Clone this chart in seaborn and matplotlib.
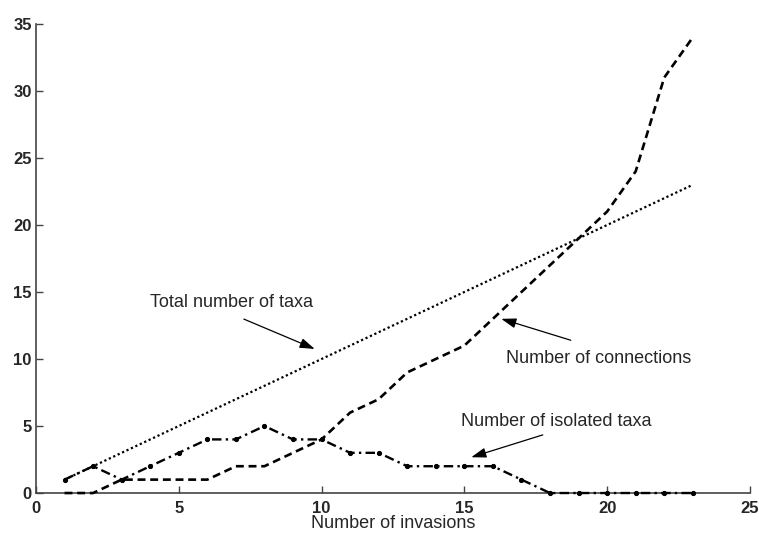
import seaborn as sns
import matplotlib.pyplot as plt
import pandas as pd

# data
invasions = list(range(1, 24))
total_taxa = list(range(1, 24))
connections = [0, 0, 1, 1, 1, 1, 2, 2, 3, 4, 6, 7, 9, 10, 11, 13, 15, 17, 19, 21, 24, 31, 34]
isolated_taxa = [1, 2, 1, 2, 3, 4, 4, 5, 4, 4, 3, 3, 2, 2, 2, 2, 1, 0, 0, 0, 0, 0, 0]

df = pd.DataFrame({"invasions": invasions, "total": total_taxa,
                   "connections": connections, "isolated": isolated_taxa})

sns.set_style("ticks")
plt.rcParams['font.family'] = ['Liberation Sans', 'DejaVu Sans']

fig = plt.figure(figsize=(7.59, 5.33), dpi=100)
ax = fig.add_axes([0.0474, 0.075, 0.9406, 0.880])

sns.lineplot(data=df, x="invasions", y="total", ax=ax, color="black",
             linestyle=(0, (1, 1.2)), linewidth=1.6, clip_on=False)
sns.lineplot(data=df, x="invasions", y="connections", ax=ax, color="black",
             linestyle=(0, (3, 1.8)), linewidth=1.9, clip_on=False)
sns.lineplot(data=df, x="invasions", y="isolated", ax=ax, color="black",
             linestyle=(0, (4, 1.8, 1, 1.8)), linewidth=1.7, marker="o",
             markersize=3, markeredgecolor="black", clip_on=False)

ax.set_xlim(0, 25)
ax.set_ylim(0, 35)
ax.set_xticks(range(0, 26, 5))
ax.set_yticks(range(0, 36, 5))
ax.set_xlabel("Number of invasions", fontsize=13, labelpad=-1)
ax.set_ylabel("")
for lab in ax.get_xticklabels() + ax.get_yticklabels():
    lab.set_fontweight("bold")
ax.tick_params(direction="in", length=5, width=1, labelsize=12, color="#444444", pad=3)
ax.tick_params(axis="x", pad=6)
sns.despine(ax=ax)
for s in ["left", "bottom"]:
    ax.spines[s].set_color("#444444")
    ax.spines[s].set_linewidth(1.2)
    ax.spines[s].set_zorder(0)

arrow = dict(arrowstyle="-|>,head_length=0.9,head_width=0.3", color="black", lw=0.9)
ax.text(3.98, 14.18, "Total number of taxa", fontsize=13, va="center")
ax.annotate("", xy=(9.85, 10.67), xytext=(7.19, 13.06), arrowprops=arrow)
ax.text(16.45, 10.07, "Number of connections", fontsize=13, va="center")
ax.annotate("", xy=(16.2, 13.06), xytext=(18.82, 11.34), arrowprops=arrow)
ax.text(14.87, 5.30, "Number of isolated taxa", fontsize=13, va="center")
ax.annotate("", xy=(15.15, 2.61), xytext=(17.84, 4.40), arrowprops=arrow)

fig.savefig("out.png", dpi=100)
